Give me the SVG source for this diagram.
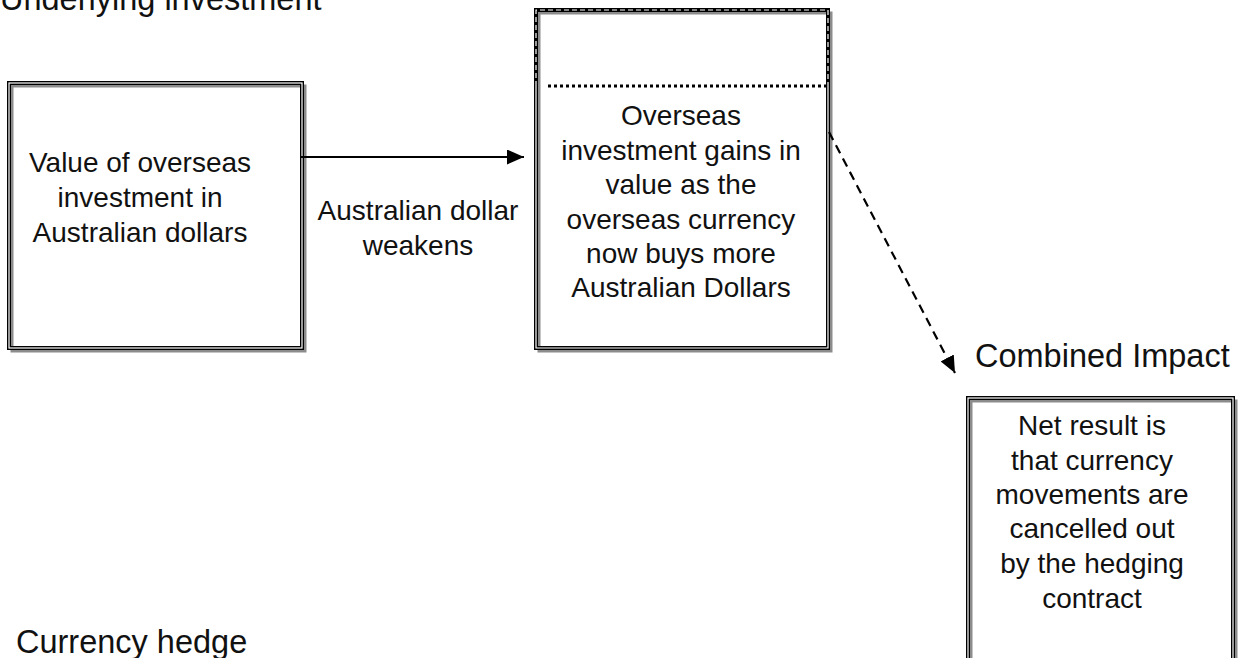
<svg xmlns="http://www.w3.org/2000/svg" width="1251" height="658" viewBox="0 0 1251 658">
<style>
text{font-family:"Liberation Sans",Arial,sans-serif;fill:#111;}
.h{font-size:32.5px;}
.b{font-size:28px;text-anchor:middle;}
.shadow{fill:none;stroke:#8c8c8c;stroke-width:3;}
.outer{fill:none;stroke:#000;stroke-width:4;}
.inner{fill:none;stroke:#fff;stroke-width:1.2;}
.innerd{fill:none;stroke:#fff;stroke-width:1.2;stroke-dasharray:5 3;}
.conn{fill:none;stroke:#000;stroke-width:2.2;}
</style>
<defs>
<marker id="ah" markerUnits="userSpaceOnUse" markerWidth="17" markerHeight="15" refX="17" refY="7.5" orient="auto">
<path d="M0,0 L17,7.5 L0,15 z" fill="#000"/>
</marker>
</defs>
<rect width="1251" height="658" fill="#fff"/>
<g id="title-underlying"><text class="h" x="0" y="10">Underlying investment</text></g>
<g id="title-combined"><text class="h" x="975" y="367">Combined Impact</text></g>
<g id="title-hedge"><text class="h" x="16" y="653">Currency hedge</text></g>

<g id="box-value">
<rect x="12" y="86" width="293" height="265" class="shadow"/>
<rect x="9" y="83" width="293" height="265" class="outer"/>
<rect x="9" y="83" width="293" height="265" class="inner"/>
<text class="b" x="140" y="172">Value of overseas</text>
<text class="b" x="140" y="207">investment in</text>
<text class="b" x="140" y="242">Australian dollars</text>
</g>

<g id="label-weakens">
<text class="b" x="418" y="220">Australian dollar</text>
<text class="b" x="418" y="255">weakens</text>
</g>

<g id="box-overseas">
<rect x="539" y="13" width="292" height="338" class="shadow"/>
<rect x="536" y="10" width="292" height="338" class="outer"/>
<path d="M536,86 V348 H828 V86" class="inner"/>
<path d="M536,86 V10 H828 V86" class="innerd"/>
<line x1="548" y1="86" x2="826" y2="86" stroke="#000" stroke-width="3" stroke-dasharray="3 3"/>
<text class="b" x="681" y="125">Overseas</text>
<text class="b" x="681" y="159.5">investment gains in</text>
<text class="b" x="681" y="194">value as the</text>
<text class="b" x="681" y="228.5">overseas currency</text>
<text class="b" x="681" y="263">now buys more</text>
<text class="b" x="681" y="297">Australian Dollars</text>
</g>

<g id="box-net">
<rect x="971" y="401" width="265" height="320" class="shadow"/>
<rect x="968" y="398" width="265" height="320" class="outer"/>
<rect x="968" y="398" width="265" height="320" class="inner"/>
<text class="b" x="1092" y="435">Net result is</text>
<text class="b" x="1092" y="470">that currency</text>
<text class="b" x="1092" y="504">movements are</text>
<text class="b" x="1092" y="538">cancelled out</text>
<text class="b" x="1092" y="573">by the hedging</text>
<text class="b" x="1092" y="608">contract</text>
</g>

<g id="connectors">
<line x1="300" y1="157" x2="524" y2="157" class="conn" marker-end="url(#ah)"/>
<line x1="829" y1="132" x2="955" y2="373" class="conn" stroke-dasharray="9 6" marker-end="url(#ah)"/>
</g>
</svg>
